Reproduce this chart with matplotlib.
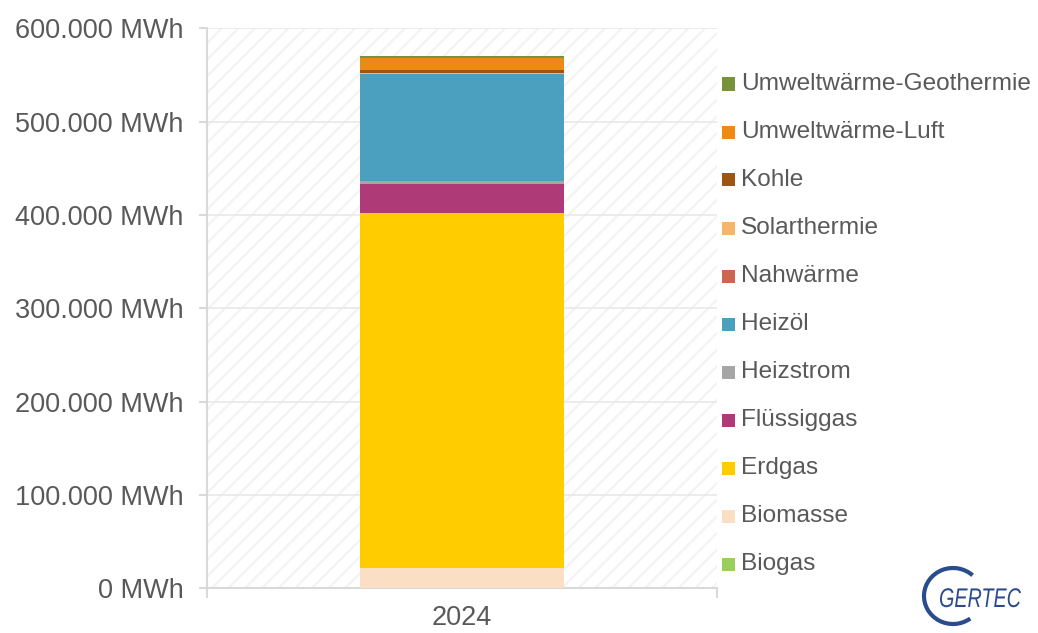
import matplotlib
matplotlib.use("Agg")
import matplotlib.pyplot as plt
from matplotlib.patches import Rectangle, Arc, PathPatch
from matplotlib.ticker import FuncFormatter, FixedLocator
from matplotlib.textpath import TextPath
from matplotlib.font_manager import FontProperties
from matplotlib.transforms import Affine2D, IdentityTransform

plt.rcParams["font.family"] = ["Liberation Sans", "DejaVu Sans"]
plt.rcParams["hatch.linewidth"] = 1.6

# Wärmeverbrauch nach Energieträger (MWh), Reihenfolge von unten nach oben
year = "2024"
carriers = ["Biogas", "Biomasse", "Erdgas", "Flüssiggas", "Heizstrom", "Heizöl",
            "Nahwärme", "Solarthermie", "Kohle", "Umweltwärme-Luft",
            "Umweltwärme-Geothermie"]
values = [0, 22000, 380300, 30400, 3900, 114600, 0, 1000, 2900, 13600, 1100]
colors = ["#9BCF5B", "#FADFC4", "#FFCC00", "#AE3A78", "#A6A6A6", "#4B9FBF",
          "#CD6651", "#F6B46C", "#9E5512", "#EC8A15", "#76933C"]
y_ticks = [0, 100000, 200000, 300000, 400000, 500000, 600000]

W, H = 1038, 633
fig = plt.figure(figsize=(W / 100, H / 100), dpi=100)
ax = fig.add_axes([207 / W, 1 - 588.3 / H, (717 - 207) / W, (588.3 - 28.3) / H])

text_col = "#595959"
axis_col = "#D9D9D9"

# hatched plot area background
ax.add_patch(Rectangle((0, 0), 1, 1, transform=ax.transAxes, facecolor="white",
                       edgecolor="#F3F3F3", hatch="//", lw=0, zorder=0))

bottom = 0
for name, val, col in zip(carriers, values, colors):
    ax.bar(0, val, width=0.4, bottom=bottom, color=col, zorder=3, linewidth=0)
    bottom += val

ax.set_xlim(-0.5, 0.5)
ax.set_ylim(0, 600000)

ax.yaxis.set_major_locator(FixedLocator(y_ticks))
ax.yaxis.set_major_formatter(
    FuncFormatter(lambda v, p: f"{int(v):,}".replace(",", ".") + " MWh"))
ax.grid(axis="y", color="#EAEAEA", linewidth=1.3, zorder=1)
ax.set_axisbelow(True)

ax.set_xticks([-0.5, 0.5])
ax.set_xticklabels(["", ""])
ax.set_xticks([0], minor=True)
ax.set_xticklabels([year], minor=True)
ax.tick_params(axis="x", which="major", length=7, width=1.5, color=axis_col)
ax.tick_params(axis="x", which="minor", length=0, pad=12, labelsize=19.5,
               labelcolor=text_col)
ax.tick_params(axis="y", length=6, width=1.5, color=axis_col, pad=11,
               labelsize=19.5, labelcolor=text_col)

for s in ["top", "right"]:
    ax.spines[s].set_visible(False)
for s in ["left", "bottom"]:
    ax.spines[s].set_color(axis_col)
    ax.spines[s].set_linewidth(1.5)

# legend, top entry = top of the stack
for i, (name, col) in enumerate(zip(carriers[::-1], colors[::-1])):
    yc = 84 + 48 * i
    fig.add_artist(Rectangle((722 / W, 1 - (yc + 6.5) / H), 13 / W, 13 / H,
                             transform=fig.transFigure, facecolor=col,
                             edgecolor="none"))
    fig.text(741 / W, 1 - yc / H, name, fontsize=17.6, color=text_col,
             va="center", ha="left")

# logo: arc plus condensed italic word mark
logo_col = "#2B4C8C"
fig.add_artist(Arc((953 / W, 1 - 596 / H), 58 / W, 56 / H, theta1=60, theta2=295,
                   transform=fig.transFigure, color=logo_col, lw=3.0))
tp = TextPath((0, 0), "GERTEC", size=27,
              prop=FontProperties(family="Liberation Sans", style="italic"))
ext = tp.get_extents()
sx = 81 / ext.width
tr = Affine2D().translate(-ext.x0, 0).scale(sx, 1.0).translate(940, H - 607)
fig.add_artist(PathPatch(tr.transform_path(tp), transform=IdentityTransform(),
                         facecolor=logo_col, edgecolor="none"))

fig.savefig("out.png", dpi=100, facecolor="white")
